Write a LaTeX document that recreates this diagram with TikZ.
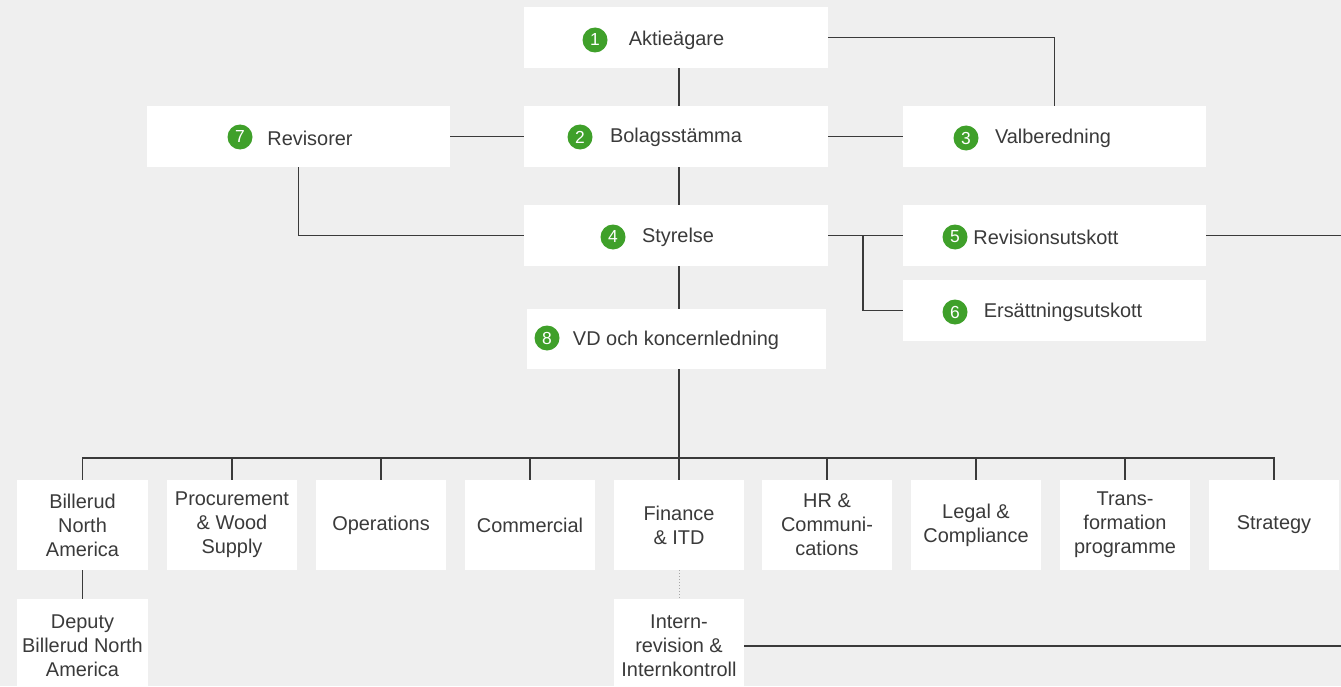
\documentclass[tikz,border=0pt]{standalone}
\usepackage{fontspec}
\setmainfont{Liberation Sans}
\definecolor{bg}{HTML}{EFEFEF}
\definecolor{txt}{HTML}{3A3A3A}
\definecolor{grn}{HTML}{3FA02A}
\definecolor{ln}{HTML}{3A3A3A}
\begin{document}
\begin{tikzpicture}[x=1bp,y=-1bp,
  topbox/.style={fill=white, minimum width=304bp, minimum height=61bp, inner sep=0pt},
  lbl/.style={text=txt, font=\fontsize{20}{24}\selectfont, inner sep=0pt},
  num/.style={circle, fill=grn, minimum size=25bp, inner sep=0pt, text=white, font=\fontsize{17.5}{17.5}\selectfont},
  unit/.style={fill=white, minimum width=130bp, minimum height=90bp, inner sep=0pt, text=txt, align=center, font=\fontsize{20}{24}\selectfont},
  conn/.style={draw=ln, line width=1.1bp},
  dots/.style={draw=gray!70, line width=1bp, dotted}]
\useasboundingbox (0,0) rectangle (1341,686);
\clip (0,0) rectangle (1341,686);
\fill[bg] (0,0) rectangle (1341,686);
\coordinate (re) at (1341,0);
\coordinate (ax) at (679,0);
% top boxes
\node[topbox] (A) at (676,37.5) {};
\node[topbox] (B) at (676,136.5) {};
\node[topbox, minimum width=303bp] (R) at (298.5,136.5) {};
\node[topbox, minimum width=303bp] (V) at (1054.5,136.5) {};
\node[topbox] (S) at (676,235.5) {};
\node[topbox, minimum width=303bp] (RU) at (1054.5,235.5) {};
\node[topbox, minimum width=303bp] (E) at (1054.5,310.5) {};
\node[topbox, minimum width=299bp, minimum height=60bp] (VD) at (676.5,339) {};
% labels
\node[lbl] (tA) at (676.5,40) {Aktieägare};
\node[lbl] (tB) at (676,137) {Bolagsstämma};
\node[lbl] (tR) at (310,138) {Revisorer};
\node[lbl] (tV) at (1053,138) {Valberedning};
\node[lbl] (tS) at (678,237) {Styrelse};
\node[lbl] (tRU) at (1046,237) {Revisionsutskott};
\node[lbl] (tE) at (1063,312) {Ersättningsutskott};
\node[lbl] (tVD) at (676,340) {VD och koncernledning};
% numbers
\node[num] (n1) at (595,40) {1};
\node[num] (n2) at (580,137) {2};
\node[num] (n3) at (966,138) {3};
\node[num] (n4) at (613,237) {4};
\node[num] (n5) at (955,237) {5};
\node[num] (n6) at (955,312) {6};
\node[num] (n7) at (240,137) {7};
\node[num] (n8) at (547,338) {8};
% bottom units
\node[unit] (u1) at (82.5,525) {Billerud\\North\\America};
\node[unit] (u2) at (232,525) {Procurement\\\& Wood\\Supply};
\node[unit] (u3) at (381,525) {\raisebox{-2bp}{Operations}};
\node[unit] (u4) at (530,525) {\raisebox{-1bp}{Commercial}};
\node[unit] (u5) at (679,525) {Finance\\\& ITD};
\node[unit] (u6) at (827,525) {HR \&\\Communi-\\cations};
\node[unit] (u7) at (976,525) {Legal \&\\Compliance};
\node[unit] (u8) at (1125,525) {Trans-\\formation\\programme};
\node[unit] (u9) at (1274,525) {\raisebox{-2bp}{Strategy}};
\node[unit, minimum height=94bp] (d1) at (82.5,646) {Deputy\\Billerud North\\America};
\node[unit, minimum height=94bp] (ir) at (679,646) {Intern-\\revision \&\\Internkontroll};
% connectors
\draw[conn] (A.south -| ax) -- (B.north -| ax);
\draw[conn] (B.south -| ax) -- (S.north -| ax);
\draw[conn] (S.south -| ax) -- (VD.north -| ax);
\draw[conn] (A.east) -| (V.north);
\draw[conn] (R.east) -- (B.west);
\draw[conn] (B.east) -- (V.west);
\draw[conn] (R.south) |- (S.west);
\draw[conn] (S.east) -- (RU.west);
\coordinate (br) at (863,235.5);
\draw[conn] (br) |- (E.west);
\draw[conn] (RU.east) -- (RU.east -| re);
\draw[conn] (ir.east) -- (ir.east -| re);
\coordinate (bus) at (679,458);
\draw[conn] (VD.south -| ax) -- (bus);
\draw[conn] (u1.north) -- (u1.north |- bus) -- (u9.north |- bus) -- (u9.north);
\foreach \k in {2,...,8} { \draw[conn] (u\k.north) -- (u\k.north |- bus); }
\draw[conn] (u1.south) -- (d1.north);
\draw[dots] (u5.south) -- (ir.north);
\end{tikzpicture}
\end{document}
